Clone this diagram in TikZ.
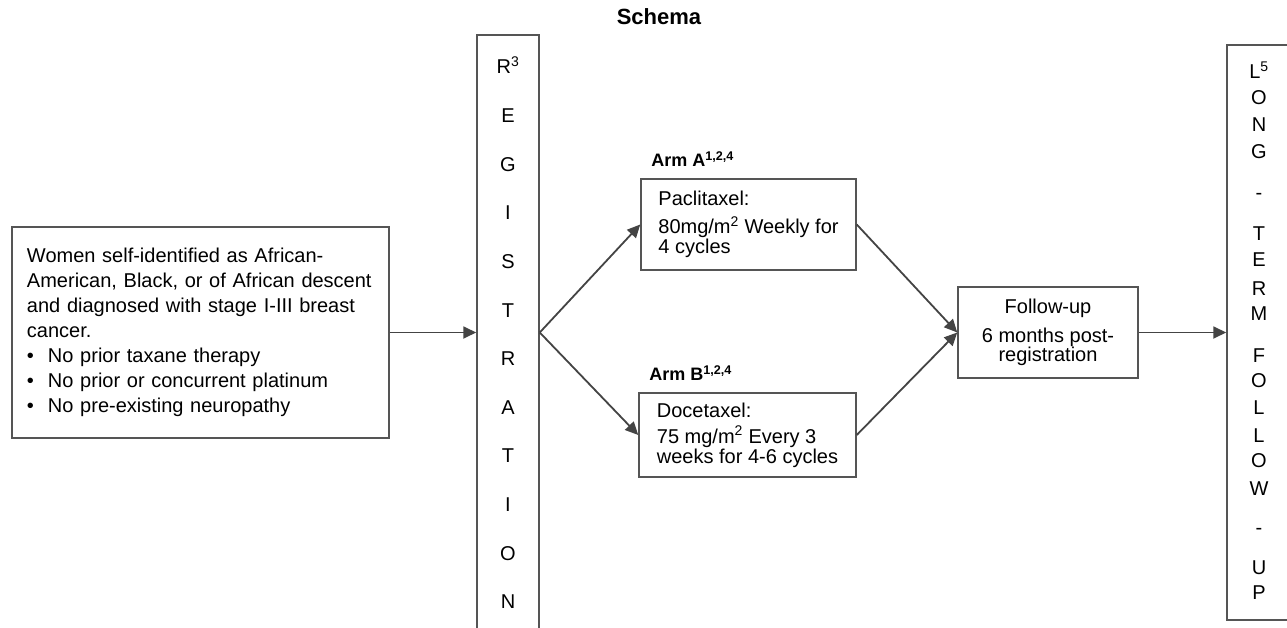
\documentclass[tikz,border=0pt]{standalone}
\usepackage{fontspec}
\setmainfont{Liberation Sans}
\usepackage{xcolor}
\usetikzlibrary{positioning, arrows.meta}
\definecolor{linegray}{HTML}{444444}
\definecolor{boxgray}{HTML}{555555}

\begin{document}
\begin{tikzpicture}[x=1pt, y=-1pt,
    box/.style = {draw=boxgray, line width=1.5pt, inner sep=0pt},
    letter/.style = {anchor=base, inner sep=0pt, font=\fontsize{20}{20}\selectfont},
    arm/.style = {font=\bfseries\fontsize{18}{18}\selectfont, inner sep=0pt},
    flow/.style = {draw=linegray, line width=1.8pt, -{Triangle[length=13pt, width=12pt]}}]
    \useasboundingbox[fill=white] (0,0) rectangle (1287,628);

    % Title
    \node[font=\bfseries\fontsize{22}{22}\selectfont] (title) at (659,17) {Schema};

    % Eligibility
    \node[box, minimum width=377pt, minimum height=211pt, text width=347pt, align=left, font=\fontsize{20}{25}\selectfont] (elig) at (200.5,332.5) {Women self-identified as African-\\American, Black, or of African descent\\and diagnosed with stage I-III breast\\cancer.\\\textbullet\hspace{14pt}No prior taxane therapy\\\textbullet\hspace{14pt}No prior or concurrent platinum\\\textbullet\hspace{14pt}No pre-existing neuropathy};

    % Registration column
    \node[box, minimum width=62pt, minimum height=605pt] (reg) at (508,337.5) {};
    \foreach \ch [count=\i from 0] in {R\textsuperscript{3},E,G,I,S,T,R,A,T,I,O,N}
        \node[letter] (reg\i) at (508,{74+48.6*\i}) {\ch};

    % Arms
    \node[box, minimum width=215pt, minimum height=91pt, align=left, font=\fontsize{20}{20}\selectfont] (armA) at (748.5,224.5) {Paclitaxel:\\[8pt]80mg/m\textsuperscript{2} Weekly for\\4 cycles};
    \node[box, minimum width=217pt, minimum height=84pt, align=left, font=\fontsize{20}{20}\selectfont] (armB) at (747.5,435) {Docetaxel:\\[6pt]75 mg/m\textsuperscript{2} Every 3\\weeks for 4-6 cycles};
    \node[arm, above right=11.5pt and 11pt of armA.north west] (labA) {Arm A\textsuperscript{1,2,4}};
    \node[arm, above right=11.5pt and 11pt of armB.north west] (labB) {Arm B\textsuperscript{1,2,4}};

    % Follow-up
    \node[box, minimum width=180pt, minimum height=91pt, align=center, font=\fontsize{20}{19}\selectfont] (fup) at (1048,332.5) {Follow-up\\[10pt]6 months post-\\registration};

    % Long-term column
    \node[box, minimum width=64pt, minimum height=575pt] (ltfu) at (1259,332.5) {};
    \foreach \ch/\y [count=\i] in {L\textsuperscript{5}/72, O/98, N/125, G/152, -/193, T/234, E/260, R/288, M/313, F/355, O/380, L/407, L/435, O/460, W/488, -/527, U/567, P/592}
        \node[letter] (lt\i) at (1259,{\y+7}) {\ch};

    % Arrows
    \coordinate (split) at (elig.east -| reg.east);
    \draw[flow] (elig.east) -- (elig.east -| reg.west);
    \draw[flow] (split) -- (armA.west);
    \draw[flow] (split) -- (armB.west);
    \draw[flow] (armA.east) -- (fup.west);
    \draw[flow] (armB.east) -- (fup.west);
    \draw[flow] (fup.east) -- (fup.east -| ltfu.west);
\end{tikzpicture}
\end{document}
